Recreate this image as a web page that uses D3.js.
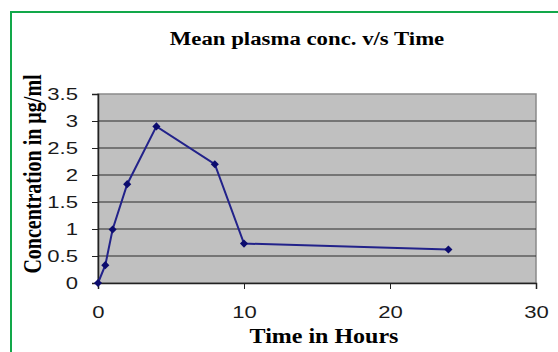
<!DOCTYPE html>
<html>
<head>
<meta charset="utf-8">
<script src="https://cdn.jsdelivr.net/npm/d3@7"></script>
<style>
  body { margin: 0; background: #fff; }
  svg { display: block; }
</style>
</head>
<body>
<svg id="chart"></svg>
<script>
// hours after dose and mean plasma concentration (µg/ml)
const hours = [0, 0.5, 1, 2, 4, 8, 10, 24]
const conc = [0, 0.33, 0.99, 1.83, 2.9, 2.2, 0.73, 0.62]
const xTicks = [0, 10, 20, 30]
const yTicks = [0, 0.5, 1, 1.5, 2, 2.5, 3, 3.5]

const width = 558
const height = 352
const margin = { top: 94, right: 22, bottom: 69, left: 98 }
const stretch = 1.3 // the source picture is widened a bit

const svg = d3.select("#chart")
  .attr("width", width)
  .attr("height", height)

// green frame round the picture
svg.append("rect")
  .attr("x", 11).attr("y", 12)
  .attr("width", 560).attr("height", 360)
  .attr("fill", "none")
  .attr("stroke", "#12a84a")
  .attr("stroke-width", 2)

const x = d3.scaleLinear()
  .domain([0, 30])
  .range([margin.left, width - margin.right])

const y = d3.scaleLinear()
  .domain([0, 3.5])
  .range([height - margin.bottom, margin.top])

// plot area
svg.append("rect")
  .attr("x", x(0)).attr("y", y(3.5))
  .attr("width", x(30) - x(0)).attr("height", y(0) - y(3.5))
  .attr("fill", "#c0c0c0")
  .attr("stroke", "#8a8a8a")
  .attr("stroke-width", 1.5)

// gridlines
svg.append("g")
  .selectAll("line")
  .data(yTicks.filter(d => d > 0 && d < 3.5))
  .join("line")
  .attr("x1", x(0)).attr("x2", x(30))
  .attr("y1", d => y(d)).attr("y2", d => y(d))
  .attr("stroke", "#2a2a2a")
  .attr("stroke-width", 1)

// axes
const yAxis = svg.append("g")
  .attr("transform", `translate(${x(0)},0)`)
  .call(d3.axisLeft(y).tickValues(yTicks).tickFormat(d3.format("")).tickSize(6).tickPadding(14))
yAxis.select(".domain").attr("stroke", "#222").attr("stroke-width", 1.5)
yAxis.selectAll(".tick line").attr("stroke", "#222")
yAxis.selectAll("text")
  .attr("x", -20 / stretch)
  .attr("transform", `scale(${stretch},1)`)
  .attr("fill", "#1a1a1a")
  .style("font-family", "'Liberation Sans', Arial, sans-serif")
  .style("font-size", "17px")

const xAxis = svg.append("g")
  .attr("transform", `translate(0,${y(0)})`)
  .call(d3.axisBottom(x).tickValues(xTicks).tickSize(6).tickPadding(17))
xAxis.select(".domain").attr("stroke", "#222").attr("stroke-width", 1.5)
xAxis.selectAll(".tick line").attr("stroke", "#222")
xAxis.selectAll("text")
  .attr("transform", `scale(${stretch},1)`)
  .attr("fill", "#1a1a1a")
  .style("font-family", "'Liberation Sans', Arial, sans-serif")
  .style("font-size", "17px")

// series line and diamond markers
const pts = hours.map((h, i) => ({ h, c: conc[i] }))

svg.append("path")
  .datum(pts)
  .attr("fill", "none")
  .attr("stroke", "#22228a")
  .attr("stroke-width", 2)
  .attr("d", d3.line().x(d => x(d.h)).y(d => y(d.c)))

svg.append("g")
  .selectAll("path")
  .data(pts)
  .join("path")
  .attr("transform", d => `translate(${x(d.h)},${y(d.c)})`)
  .attr("d", d3.symbol(d3.symbolDiamond2, 42))
  .attr("fill", "#0c0c6e")

// titles
const serif = "'Liberation Serif', 'Times New Roman', serif"

svg.append("text")
  .attr("transform", "translate(307,45) scale(1.2,1)")
  .attr("text-anchor", "middle")
  .style("font-family", serif)
  .style("font-weight", "bold")
  .style("font-size", "19px")
  .text("Mean plasma conc. v/s Time")

svg.append("text")
  .attr("transform", "translate(324,343) scale(1.2,1)")
  .attr("text-anchor", "middle")
  .style("font-family", serif)
  .style("font-weight", "bold")
  .style("font-size", "20px")
  .text("Time in Hours")

svg.append("text")
  .attr("transform", "translate(41,174) rotate(-90) scale(1,1.3)")
  .attr("text-anchor", "middle")
  .style("font-family", serif)
  .style("font-weight", "bold")
  .style("font-size", "20px")
  .text("Concentration in µg/ml")
</script>
</body>
</html>
